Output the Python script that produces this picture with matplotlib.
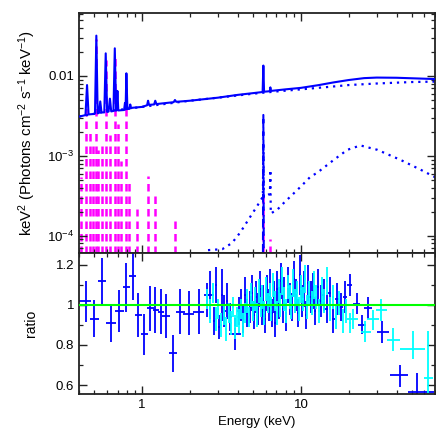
import numpy as np
import matplotlib
matplotlib.use("Agg")
import matplotlib.pyplot as plt
from matplotlib.ticker import FixedLocator, NullFormatter

plt.rcParams["font.family"] = ["Liberation Sans", "DejaVu Sans"]
plt.rcParams["mathtext.fontset"] = "custom"
plt.rcParams["mathtext.rm"] = "Liberation Sans"
plt.rcParams["mathtext.it"] = "Liberation Sans:italic"

# ---------------- model curves (top panel) ----------------
tot_E = [0.40, 0.43, 0.44, 0.45, 0.46, 0.50, 0.505, 0.515, 0.525, 0.535, 0.545, 0.555,
         0.578, 0.59, 0.602, 0.615, 0.627, 0.639, 0.66, 0.673, 0.686, 0.69, 0.699, 0.708,
         0.77, 0.78, 0.787, 0.796, 0.808, 0.832, 0.842, 0.852, 0.87, 1.0, 1.075, 1.09, 1.105,
         1.19, 1.21, 1.23, 1.58, 1.61, 1.64, 2.0, 3.0, 4.0, 5.0, 5.74, 5.80, 5.86, 6.37,
         6.42, 6.47, 8.0, 10.0, 13.0, 16.0, 20.0, 25.0, 30.0, 40.0, 55.0, 70.0]
tot_val = [3.1e-3, 3.2e-3, 3.25e-3, 7.7e-3, 3.3e-3, 3.35e-3, 3.4e-3, 3.2e-2, 3.4e-3, 3.45e-3, 4.8e-3, 3.5e-3,
           3.5e-3, 1.92e-2, 3.55e-3, 3.6e-3, 5.2e-3, 3.6e-3, 3.65e-3, 2.22e-2, 3.7e-3, 3.7e-3, 6.5e-3, 3.7e-3,
           3.75e-3, 4.6e-3, 3.8e-3, 1.08e-2, 3.85e-3, 3.9e-3, 4.4e-3, 3.95e-3, 4.0e-3, 4.1e-3, 4.3e-3, 4.9e-3, 4.35e-3,
           4.4e-3, 4.9e-3, 4.45e-3, 4.7e-3, 5.0e-3, 4.75e-3, 4.9e-3, 5.35e-3, 5.8e-3, 6.1e-3, 6.3e-3, 1.35e-2, 6.35e-3, 6.45e-3,
           7.2e-3, 6.5e-3, 6.8e-3, 7.1e-3, 7.7e-3, 8.3e-3, 8.9e-3, 9.4e-3, 9.55e-3, 9.5e-3, 9.3e-3, 9.15e-3]

prim_E = [0.40, 0.6, 1.0, 2.0, 3.0, 5.0, 7.0, 10.0, 15.0, 20.0, 30.0, 50.0, 70.0]
prim_val = [3.1e-3, 3.6e-3, 4.1e-3, 4.9e-3, 5.35e-3, 6.0e-3, 6.4e-3, 6.8e-3, 7.3e-3, 7.7e-3, 8.05e-3, 8.4e-3, 8.5e-3]

refl_E = [2.6, 3.2, 3.68, 4.15, 4.8, 5.3, 5.69, 5.76, 5.80, 5.84, 6.30, 6.38, 6.42, 6.46, 6.6, 7.07,
          7.78, 9.95, 11.5, 12.6, 16.1, 19.6, 23.7, 30.3, 42.4, 56.8, 70.0]
refl_val = [6.6e-5, 6.8e-5, 8.1e-5, 1.1e-4, 1.73e-4, 2.35e-4, 2.96e-4, 3.0e-4, 1.4e-3, 3.05e-4, 3.3e-4, 3.35e-4, 6.7e-4, 1.9e-4, 1.95e-4, 2.1e-4,
            2.56e-4, 4.1e-4, 5.5e-4, 6.1e-4, 8.9e-4, 1.19e-3, 1.35e-3, 1.19e-3, 8.9e-4, 6.7e-4, 5.4e-4]

feline_E = [5.76, 5.80, 5.84]
feline_val = [3e-5, 3.25e-3, 3e-5]

mag_E = [0.41, 0.445, 0.47, 0.49, 0.515, 0.53, 0.557, 0.59, 0.63, 0.673, 0.705, 0.74,
         0.796, 0.83, 0.934, 1.09, 1.21, 1.61, 5.80, 6.42]
mag_peak = [5.5e-4, 4.5e-3, 2.0e-3, 1.5e-3, 2.9e-2, 1.2e-3, 1.5e-3, 1.6e-2, 1.8e-3, 1.8e-2, 2.5e-3, 8.5e-4,
            7.0e-3, 5.0e-4, 2.15e-4, 5.6e-4, 3.3e-4, 1.67e-4, 3.6e-4, 9.0e-5]

# ---------------- ratio data (bottom panel) ----------------
# dataset 1 (blue), sparse soft-band bins
b1_E = [0.441, 0.50, 0.56, 0.634, 0.719, 0.796, 0.873, 0.947, 1.034, 1.12, 1.21, 1.31, 1.41, 1.56,
        1.74, 1.96, 2.27, 2.56]
b1_Elo = [0.40, 0.47, 0.526, 0.59, 0.675, 0.76, 0.83, 0.90, 0.985, 1.075, 1.17, 1.26, 1.34, 1.48,
          1.63, 1.82, 2.08, 2.44]
b1_Ehi = [0.475, 0.535, 0.595, 0.68, 0.77, 0.84, 0.92, 1.005, 1.095, 1.185, 1.27, 1.37, 1.50, 1.66,
          1.85, 2.11, 2.45, 2.72]
b1_r = [1.018, 0.932, 1.12, 0.912, 0.971, 1.089, 1.145, 0.95, 0.856, 0.983, 0.976, 0.967, 0.947, 0.76,
        0.967, 0.957, 0.967, 1.05]
b1_rlo = [0.917, 0.84, 1.005, 0.815, 0.866, 0.967, 1.025, 0.84, 0.751, 0.87, 0.861, 0.856, 0.836, 0.667,
          0.856, 0.849, 0.856, 0.94]
b1_rhi = [1.12, 1.025, 1.233, 1.005, 1.076, 1.208, 1.27, 1.06, 0.954, 1.093, 1.089, 1.081, 1.056, 0.849,
          1.081, 1.069, 1.081, 1.11]

# dataset 1 (blue), dense hard-band bins
b2_E = [2.69, 2.83, 2.92, 3.05, 3.18, 3.30, 3.42, 3.60, 3.86, 4.05, 4.18, 4.31, 4.45, 4.60, 4.75,
        4.90, 5.05, 5.20, 5.35, 5.50, 5.65, 5.80, 5.95, 6.10, 6.25, 6.40, 6.55, 6.72, 6.90, 7.08,
        7.27, 7.46, 7.66, 7.87, 8.08, 8.30, 8.53, 8.77, 9.02, 9.28, 9.55, 9.83, 10.12, 10.42, 10.75,
        11.1, 11.5, 11.9, 12.3, 12.8, 13.3, 13.9, 14.5, 15.2, 16.0, 16.9, 17.9, 19.0]
b2_r = [1.05, 0.92, 1.10, 0.89, 1.05, 0.97, 1.02, 0.94, 0.856, 0.97, 1.00, 0.93, 1.05, 0.96, 0.99,
        1.06, 0.95, 1.04, 0.98, 1.08, 0.97, 1.02, 0.93, 1.06, 1.00, 1.09, 0.96, 1.04, 0.91, 1.08,
        1.01, 1.12, 0.98, 1.06, 0.94, 1.10, 1.03, 0.99, 1.13, 1.05, 0.96, 1.15, 1.02, 1.08, 0.95,
        1.11, 1.04, 1.07, 0.97, 1.09, 1.02, 1.05, 0.98, 1.06, 0.93, 1.03, 0.99, 1.04]
b2_err = [0.12, 0.07, 0.09, 0.06, 0.13, 0.08, 0.09, 0.07, 0.08, 0.07, 0.08, 0.07, 0.09, 0.07, 0.08,
          0.09, 0.07, 0.08, 0.08, 0.09, 0.07, 0.08, 0.07, 0.09, 0.08, 0.09, 0.07, 0.08, 0.07, 0.09,
          0.08, 0.09, 0.07, 0.08, 0.07, 0.09, 0.08, 0.07, 0.09, 0.08, 0.07, 0.10, 0.08, 0.09, 0.07,
          0.09, 0.08, 0.09, 0.07, 0.09, 0.08, 0.08, 0.07, 0.08, 0.07, 0.08, 0.07, 0.08]
b2_Ehw = [0.14, 0.05, 0.05, 0.06, 0.06, 0.06, 0.06, 0.08, 0.36, 0.07, 0.06, 0.06, 0.07, 0.07, 0.07,
          0.07, 0.07, 0.07, 0.07, 0.07, 0.07, 0.07, 0.07, 0.07, 0.07, 0.07, 0.08, 0.08, 0.09, 0.09,
          0.09, 0.09, 0.10, 0.10, 0.10, 0.11, 0.11, 0.12, 0.12, 0.13, 0.13, 0.14, 0.14, 0.15, 0.16,
          0.18, 0.19, 0.20, 0.22, 0.24, 0.26, 0.28, 0.30, 0.34, 0.40, 0.45, 0.50, 0.55]

b3_E = [20.3, 22.4, 24.4, 26.6, 32.6, 41.9, 54.0]
b3_Elo = [19.6, 21.2, 22.8, 24.9, 30.3, 36.3, 47.1]
b3_Ehi = [21.1, 23.7, 25.8, 28.1, 35.7, 47.1, 68.9]
b3_r = [1.10, 1.005, 0.90, 0.985, 0.866, 0.65, 0.565]
b3_rlo = [1.047, 0.955, 0.855, 0.93, 0.81, 0.59, 0.45]
b3_rhi = [1.154, 1.06, 0.95, 1.04, 0.92, 0.70, 0.66]

# dataset 2 (cyan), dense bins
c1_E = [2.55, 2.66, 2.78, 2.90, 3.02, 3.14, 3.26, 3.38, 3.50, 3.62, 3.74, 3.86, 3.98, 4.10, 4.22,
        4.34, 4.47, 4.60, 4.73, 4.86, 5.00, 5.14, 5.28, 5.42, 5.57, 5.72, 5.87, 6.03, 6.19, 6.35,
        6.52, 6.69, 6.87, 7.05, 7.24, 7.43, 7.63, 7.83, 8.04, 8.26, 8.48, 8.71, 8.95, 9.2, 9.46,
        9.73, 10.0, 10.3, 10.6, 10.9, 11.3, 11.7, 12.1, 12.5, 13.0, 13.5, 14.0, 14.6, 15.2, 15.9,
        16.6, 17.4, 18.3, 19.3, 20.3]
c1_r = [1.03, 0.97, 1.06, 0.93, 0.98, 0.90, 0.95, 0.88, 0.96, 0.91, 0.99, 0.89, 0.94, 0.92, 0.98,
        0.90, 0.96, 1.02, 0.94, 1.05, 0.97, 1.03, 0.95, 1.07, 0.99, 1.04, 0.96, 1.08, 1.01, 1.05,
        0.98, 1.10, 1.02, 0.96, 1.07, 1.00, 1.12, 1.03, 0.97, 1.09, 1.04, 0.99, 1.11, 1.02, 1.06,
        0.98, 1.08, 1.03, 1.13, 0.99, 1.06, 1.01, 1.10, 1.04, 0.97, 1.07, 1.02, 1.12, 0.98, 1.04,
        0.94, 1.01, 0.92, 0.97, 0.91]
c1_err = [0.05, 0.06, 0.05, 0.06, 0.05, 0.06, 0.05, 0.06, 0.05, 0.06, 0.05, 0.06, 0.05, 0.06, 0.05,
          0.06, 0.05, 0.06, 0.05, 0.06, 0.05, 0.06, 0.06, 0.06, 0.05, 0.06, 0.06, 0.06, 0.05, 0.06,
          0.06, 0.06, 0.05, 0.06, 0.06, 0.06, 0.07, 0.06, 0.06, 0.06, 0.06, 0.06, 0.07, 0.06, 0.06,
          0.06, 0.07, 0.06, 0.07, 0.06, 0.06, 0.06, 0.07, 0.06, 0.06, 0.07, 0.06, 0.07, 0.06, 0.06,
          0.06, 0.06, 0.06, 0.06, 0.05]

c2_E = [21.3, 25.5, 28.3, 31.8, 38.2, 50.5, 63.3]
c2_Elo = [19.6, 23.9, 26.1, 29.6, 34.7, 42.3, 59.6]
c2_Ehi = [22.8, 27.5, 30.8, 34.7, 42.3, 60.2, 67.4]
c2_r = [0.93, 0.866, 0.93, 0.975, 0.827, 0.782, 0.633]
c2_rlo = [0.88, 0.815, 0.875, 0.92, 0.77, 0.73, 0.45]
c2_rhi = [0.98, 0.92, 0.975, 1.03, 0.883, 0.87, 0.87]

BLUE = "#0000ff"
CYAN = "#00ffff"
MAGENTA = "#ff00ff"
GREEN = "#00ff00"
FRAME = "#222222"
FS = 9.5


def asym(v, lo, hi):
    v = np.asarray(v, float)
    return np.vstack([v - np.asarray(lo, float), np.asarray(hi, float) - v])


def style_axis(ax):
    ax.tick_params(which="both", direction="in", top=True, right=True,
                   colors=FRAME, labelcolor="black", labelsize=FS)
    ax.tick_params(which="major", length=6, width=1.0)
    ax.tick_params(which="minor", length=3, width=0.9)
    for sp in ax.spines.values():
        sp.set_linewidth(1.3)
        sp.set_color(FRAME)


def main():
    fig = plt.figure(figsize=(4.36, 4.36), dpi=100)
    ax1 = fig.add_axes([0.181, 0.420, 0.817, 0.550])
    ax2 = fig.add_axes([0.181, 0.0963, 0.817, 0.3237], sharex=ax1)

    # top panel: unfolded model components
    ax1.vlines(mag_E, 1e-5, mag_peak, colors=MAGENTA, linestyles=(0, (3, 2)), linewidth=1.8, zorder=1)
    ax1.plot(refl_E, refl_val, color=BLUE, linestyle=(0, (1, 2.2)), linewidth=1.6, zorder=2)
    ax1.plot(feline_E, feline_val, color=BLUE, linestyle=(0, (4, 2)), linewidth=1.5, zorder=2)
    ax1.plot(prim_E, prim_val, color=BLUE, linestyle=(0, (1, 2.2)), linewidth=1.6, zorder=2)
    ax1.plot(tot_E, tot_val, color=BLUE, linewidth=1.5, zorder=3)

    ax1.set_xscale("log")
    ax1.set_yscale("log")
    ax1.set_xlim(0.4, 70)
    ax1.set_ylim(6.1e-5, 0.0613)
    ax1.yaxis.set_major_locator(FixedLocator([1e-4, 1e-3, 1e-2]))
    ax1.set_yticklabels([r"$10^{-4}$", r"$10^{-3}$", "0.01"])
    yminor = [m * 10.0 ** d for d in (-5, -4, -3, -2) for m in range(2, 10)]
    ax1.yaxis.set_minor_locator(FixedLocator(yminor))
    ax1.yaxis.set_minor_formatter(NullFormatter())
    ax1.set_ylabel(r"keV$^2$ (Photons cm$^{-2}$ s$^{-1}$ keV$^{-1}$)", fontsize=10.8)
    ax1.yaxis.set_label_coords(-0.115, 0.5)
    plt.setp(ax1.get_xticklabels(), visible=False)
    style_axis(ax1)

    # bottom panel: data/model ratio
    eb = dict(fmt="none", elinewidth=1.3, capsize=0)
    ax2.errorbar(b1_E, b1_r, xerr=asym(b1_E, b1_Elo, b1_Ehi), yerr=asym(b1_r, b1_rlo, b1_rhi), ecolor=BLUE, **eb)
    ax2.errorbar(b2_E, b2_r, xerr=b2_Ehw, yerr=b2_err, ecolor=BLUE, **eb)
    ax2.errorbar(b3_E, b3_r, xerr=asym(b3_E, b3_Elo, b3_Ehi), yerr=asym(b3_r, b3_rlo, b3_rhi), ecolor=BLUE, **eb)
    c1_hw = [0.012 * e for e in c1_E]
    ax2.errorbar(c1_E, c1_r, xerr=c1_hw, yerr=c1_err, ecolor=CYAN, **eb)
    ax2.errorbar(c2_E, c2_r, xerr=asym(c2_E, c2_Elo, c2_Ehi), yerr=asym(c2_r, c2_rlo, c2_rhi), ecolor=CYAN, **eb)
    ax2.axhline(1.0, color=GREEN, linewidth=1.5, zorder=5)

    ax2.set_ylim(0.555, 1.26)
    ax2.yaxis.set_major_locator(FixedLocator([0.6, 0.8, 1.0, 1.2]))
    ax2.set_yticklabels(["0.6", "0.8", "1", "1.2"])
    ax2.yaxis.set_minor_locator(FixedLocator([0.7, 0.9, 1.1]))
    ax2.xaxis.set_major_locator(FixedLocator([1, 10]))
    ax2.set_xticklabels(["1", "10"])
    xminor = [m * 10.0 ** d for d in (-1, 0, 1) for m in range(2, 10)]
    ax2.xaxis.set_minor_locator(FixedLocator(xminor))
    ax2.xaxis.set_minor_formatter(NullFormatter())
    ax2.set_xlim(0.4, 70)
    ax2.set_xlabel("Energy (keV)", fontsize=FS)
    ax2.set_ylabel("ratio", fontsize=FS + 0.5)
    ax2.yaxis.set_label_coords(-0.115, 0.5)
    style_axis(ax2)

    fig.savefig("out.png", dpi=100)
    plt.close(fig)


if __name__ == "__main__":
    main()
